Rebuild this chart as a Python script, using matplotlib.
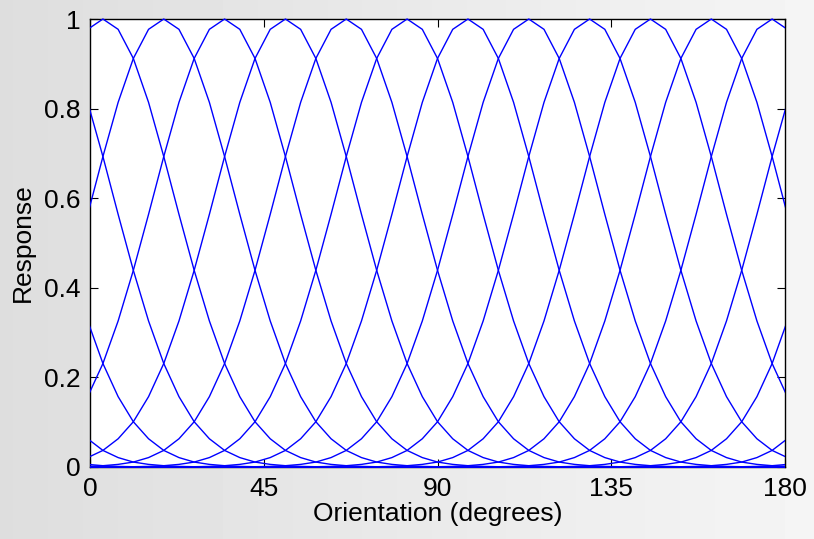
import numpy as np
import matplotlib
matplotlib.use("Agg")
import matplotlib.pyplot as plt
from matplotlib.patches import Rectangle

# orientation samples (deg) and the 12 channels' preferred sample index
orientation = np.linspace(-0.6, 180.6, 47)
n_period = 48
preferred_idx = [1, 5, 9, 13, 17, 21, 25, 29, 33, 37, 41, 45]

# response vs. distance from the preferred sample (in samples)
profile = [1.0, 0.977, 0.912, 0.814, 0.693, 0.564, 0.439, 0.326, 0.231,
           0.157, 0.101, 0.063, 0.037, 0.021, 0.011, 0.0058, 0.0029,
           0.0013, 0.0006, 0.0, 0.0, 0.0, 0.0, 0.0, 0.0]

xticks = [0, 45, 90, 135, 180]
yticks = [0, 0.2, 0.4, 0.6, 0.8, 1]
yticklabels = ['0', '0.2', '0.4', '0.6', '0.8', '1']

plt.rcParams['font.family'] = ['Liberation Sans', 'DejaVu Sans']

fig = plt.figure(figsize=(8.14, 5.39), dpi=100)

# soft grey backdrop, lighter towards the right
bg = fig.add_axes([0, 0, 1, 1], zorder=-10)
grad = np.linspace(0.87, 0.96, 256).reshape(1, -1)
bg.imshow(grad, cmap='gray', vmin=0, vmax=1, aspect='auto', extent=[0, 1, 0, 1])
bg.axis('off')

ax = fig.add_axes([0.1106, 0.1336, 0.8538, 0.8311])
ax.set_facecolor('white')

idx = np.arange(len(orientation))
clip = Rectangle((0, -0.01), 1, 1.03, transform=ax.transAxes)
for c in preferred_idx:
    d = np.abs(idx - c)
    d = np.minimum(d, n_period - d)
    resp = np.array(profile)[d]
    ln, = ax.plot(orientation, resp, color='#0000ff', lw=1.0, zorder=3)
    ln.set_clip_path(clip)

ax.set_xlim(0, 180)
ax.set_ylim(0, 1)
ax.set_xticks(xticks)
ax.set_yticks(yticks)
ax.set_yticklabels(yticklabels)
ax.tick_params(direction='in', length=6, width=0.8, labelsize=19,
               top=True, right=True, pad=7)
for s in ax.spines.values():
    s.set_linewidth(1.0)
ax.set_xlabel('Orientation (degrees)', fontsize=19, labelpad=1)
ax.set_ylabel('Response', fontsize=19, labelpad=6)

fig.savefig('out.png', dpi=100)
